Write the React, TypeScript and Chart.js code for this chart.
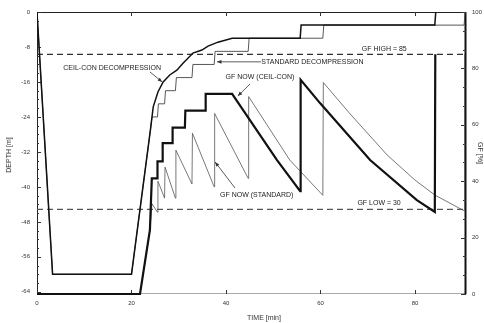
import React, { useEffect, useRef } from "react";
import { Chart, registerables } from "chart.js";

Chart.register(...registerables);

// ---- axes ----
const timeTicks = [0, 20, 40, 60, 80];
const depthTicks = [0, -8, -16, -24, -32, -40, -48, -56, -64];
const gfTicks = [0, 20, 40, 60, 80, 100];
const timeMax = 90.8;
const depthMin = -64.5;

// ---- depth profiles (time [min], depth [m]) ----
const ceilDepthTime = [0, 3.3, 20, 24.0, 24.6, 25.6, 26.7, 28.1, 29.6, 30.9, 32.0, 33.0, 34.9, 36.2, 38.3, 41.3, 55.7, 55.9, 84.2, 84.4];
const ceilDepth = [0, -60, -60, -27, -21.7, -18.3, -16, -14.4, -13.3, -11.7, -10.5, -9.4, -8.7, -7.8, -6.9, -6, -6, -3, -3, 0];

const stdDepthTime = [0, 3.3, 20, 24.0, 24.34, 25.5, 25.7, 27.0, 27.2, 29.3, 29.5, 32.8, 33.0, 37.5, 37.7, 44.7, 44.9, 60.5, 60.7, 90.4, 90.6];
const stdDepth = [0, -60, -60, -27, -24, -24, -21, -21, -18, -18, -15, -15, -12, -12, -9, -9, -6, -6, -3, -3, 0];

// ---- gradient factor now (time [min], GF [%]) ----
const ceilGfTime = [0, 21.8, 23.9, 24.3, 25.4, 25.5, 26.5, 26.6, 28.6, 28.7, 31.3, 31.4, 35.6, 35.7, 41.3, 50.8, 55.7, 55.8, 59.9, 70.5, 80.4, 84.2, 84.3];
const ceilGf = [0, 0, 22.7, 41, 41, 47, 47, 53.5, 53.5, 59, 59, 65, 65, 71, 71, 47.5, 36.5, 76, 67.7, 47.5, 33.3, 29.1, 85];

const stdGfTime = [0, 21.8, 23.9, 24.34, 25.5, 25.6, 27.0, 27.1, 29.3, 29.4, 32.8, 32.9, 37.5, 37.6, 44.7, 44.8, 53.5, 60.5, 60.6, 66.2, 74.1, 80.0, 84.2, 90.4, 90.5];
const stdGf = [0, 0, 22.7, 32, 29, 40, 34, 45, 34, 51, 39, 57, 38, 64, 41, 70, 47.5, 35, 75, 64, 49.3, 40.4, 35.1, 29.5, 85];

const gfHigh = 85;
const gfLow = 30;

// ---- annotations ----
const labelTexts = ["CEIL-CON DECOMPRESSION", "STANDARD DECOMPRESSION", "GF NOW (CEIL-CON)", "GF NOW (STANDARD)", "GF HIGH = 85", "GF LOW = 30"];
const labelAxes = ["y", "y", "y2", "y2", "y2", "y2"];
const labelX = [15.9, 58.3, 47.2, 46.5, 73.5, 72.4];
const labelY = [-12.8, -11.4, 77, 35.1, 86.9, 32.3];

const arrowAxes = ["y", "y", "y2", "y2"];
const arrowFromX = [23.9, 47.4, 45.1, 41.9];
const arrowFromY = [-13.7, -11.4, 74.5, 37.6];
const arrowToX = [26.5, 38.1, 42.5, 37.7];
const arrowToY = [-16.0, -11.4, 70.2, 46.8];

const FONT = "'Liberation Sans', Arial, sans-serif";

function pts(xs: number[], ys: number[]) {
  return xs.map((x, i) => ({ x, y: ys[i] }));
}

const decor = {
  id: "decor",
  beforeDatasetsDraw(chart: any) {
    const { ctx, chartArea: a, scales } = chart;
    ctx.save();
    ctx.lineWidth = 1;
    ctx.strokeStyle = "#222";
    ctx.beginPath();
    ctx.moveTo(a.left + 0.5, a.bottom);
    ctx.lineTo(a.left + 0.5, a.top + 0.5);
    ctx.lineTo(a.right, a.top + 0.5);
    ctx.stroke();
    ctx.strokeStyle = "#aaa";
    ctx.beginPath();
    ctx.moveTo(a.left, a.bottom - 0.5);
    ctx.lineTo(a.right, a.bottom - 0.5);
    ctx.stroke();
    ctx.strokeStyle = "#111";
    ctx.lineWidth = 2;
    ctx.beginPath();
    ctx.moveTo(a.right - 0.5, a.top);
    ctx.lineTo(a.right - 0.5, a.bottom);
    ctx.stroke();

    ctx.lineWidth = 1;
    ctx.strokeStyle = "#333";
    const x = scales.x, y = scales.y, y2 = scales.y2;
    ctx.beginPath();
    timeTicks.forEach((v) => {
      const px = Math.round(x.getPixelForValue(v)) + 0.5;
      ctx.moveTo(px, a.bottom);
      ctx.lineTo(px, a.bottom - 4);
      ctx.moveTo(px, a.top);
      ctx.lineTo(px, a.top + 4);
    });
    for (let i = 0; i < depthTicks.length; i++) {
      const v = depthTicks[i];
      const py = Math.round(y.getPixelForValue(v)) + 0.5;
      ctx.moveTo(a.left, py);
      ctx.lineTo(a.left + 4, py);
      if (i < depthTicks.length - 1) {
        const step = (depthTicks[i + 1] - v) / 4;
        for (let k = 1; k < 4; k++) {
          const pm = Math.round(y.getPixelForValue(v + k * step)) + 0.5;
          ctx.moveTo(a.left, pm);
          ctx.lineTo(a.left + 2, pm);
        }
      }
    }
    for (let i = 0; i < gfTicks.length; i++) {
      const v = gfTicks[i];
      const py = Math.round(y2.getPixelForValue(v)) + 0.5;
      ctx.moveTo(a.right, py);
      ctx.lineTo(a.right - 5, py);
      if (i < gfTicks.length - 1) {
        const step = (gfTicks[i + 1] - v) / 3;
        for (let k = 1; k < 3; k++) {
          const pm = Math.round(y2.getPixelForValue(v + k * step)) + 0.5;
          ctx.moveTo(a.right, pm);
          ctx.lineTo(a.right - 3, pm);
        }
      }
    }
    ctx.stroke();
    ctx.restore();
  },
  afterDatasetsDraw(chart: any) {
    const { ctx, scales, chartArea: a } = chart;
    ctx.save();
    ctx.fillStyle = "#222";
    ctx.font = `7px ${FONT}`;
    ctx.textAlign = "center";
    ctx.textBaseline = "middle";
    labelTexts.forEach((t, i) => {
      const px = scales.x.getPixelForValue(labelX[i]);
      const py = scales[labelAxes[i]].getPixelForValue(labelY[i]);
      ctx.fillText(t, px, py);
    });
    ctx.strokeStyle = "#333";
    ctx.lineWidth = 0.8;
    arrowAxes.forEach((ax, i) => {
      const x1 = scales.x.getPixelForValue(arrowFromX[i]);
      const y1 = scales[ax].getPixelForValue(arrowFromY[i]);
      const x2 = scales.x.getPixelForValue(arrowToX[i]);
      const y2 = scales[ax].getPixelForValue(arrowToY[i]);
      ctx.beginPath();
      ctx.moveTo(x1, y1);
      ctx.lineTo(x2, y2);
      ctx.stroke();
      const ang = Math.atan2(y2 - y1, x2 - x1);
      const L = 4.5, W = 1.8;
      ctx.beginPath();
      ctx.moveTo(x2, y2);
      ctx.lineTo(x2 - L * Math.cos(ang) + W * Math.sin(ang), y2 - L * Math.sin(ang) - W * Math.cos(ang));
      ctx.lineTo(x2 - L * Math.cos(ang) - W * Math.sin(ang), y2 - L * Math.sin(ang) + W * Math.cos(ang));
      ctx.closePath();
      ctx.fillStyle = "#333";
      ctx.fill();
    });

    ctx.fillStyle = "#333";
    ctx.font = `7px ${FONT}`;
    ctx.fillText("TIME [min]", 264, 318);
    ctx.save();
    ctx.translate(9, (a.top + a.bottom) / 2 + 2);
    ctx.rotate(-Math.PI / 2);
    ctx.fillText("DEPTH [m]", 0, 0);
    ctx.restore();
    ctx.save();
    ctx.translate(480, (a.top + a.bottom) / 2);
    ctx.rotate(Math.PI / 2);
    ctx.fillText("GF [%]", 0, 0);
    ctx.restore();
    ctx.restore();
  },
};

export default function App() {
  const ref = useRef<HTMLCanvasElement>(null);
  useEffect(() => {
    document.body.style.margin = "0";
    document.body.style.overflow = "hidden";
    Chart.defaults.font.family = FONT;
    const tickFont = { size: 6, family: FONT };
    const chart = new Chart(ref.current as HTMLCanvasElement, {
      type: "line",
      data: {
        datasets: [
          { label: "GF now (ceil-con)", data: pts(ceilGfTime, ceilGf), yAxisID: "y2", borderColor: "#111", borderWidth: 2.2, clip: 3 },
          { label: "Ceil-con decompression", data: pts(ceilDepthTime, ceilDepth), yAxisID: "y", borderColor: "#111", borderWidth: 1.5 },
          { label: "Standard decompression", data: pts(stdDepthTime, stdDepth), yAxisID: "y", borderColor: "#444", borderWidth: 0.9 },
          { label: "GF now (standard)", data: pts(stdGfTime, stdGf), yAxisID: "y2", borderColor: "#555", borderWidth: 0.8 },
          { label: "GF high", data: pts([0, timeMax], [gfHigh, gfHigh]), yAxisID: "y2", borderColor: "#333", borderWidth: 1.3, borderDash: [6, 4] },
          { label: "GF low", data: pts([0, timeMax], [gfLow, gfLow]), yAxisID: "y2", borderColor: "#555", borderWidth: 1.3, borderDash: [6, 4] },
        ].map((d) => ({ ...d, pointRadius: 0, fill: false, tension: 0 })),
      },
      options: {
        animation: false,
        responsive: false,
        devicePixelRatio: 1,
        layout: { padding: { top: 12, left: 0, right: 0, bottom: 0 } },
        plugins: { legend: { display: false }, tooltip: { enabled: false } },
        scales: {
          x: {
            type: "linear",
            min: 0,
            max: timeMax,
            afterBuildTicks: (s: any) => { s.ticks = timeTicks.map((v) => ({ value: v })); },
            afterFit: (s: any) => { s.height = 29; },
            ticks: { font: tickFont, color: "#333", padding: 6, autoSkip: false, maxRotation: 0 },
            grid: { display: false, drawTicks: false },
            border: { display: false },
          },
          y: {
            type: "linear",
            position: "left",
            min: depthMin,
            max: 0,
            afterBuildTicks: (s: any) => { s.ticks = depthTicks.map((v) => ({ value: v })); },
            afterFit: (s: any) => { s.width = 37; },
            ticks: { font: tickFont, color: "#333", padding: 7, autoSkip: false },
            grid: { display: false, drawTicks: false },
            border: { display: false },
          },
          y2: {
            type: "linear",
            position: "right",
            min: 0,
            max: 100,
            afterBuildTicks: (s: any) => { s.ticks = gfTicks.map((v) => ({ value: v })); },
            afterFit: (s: any) => { s.width = 18; },
            ticks: { font: tickFont, color: "#333", padding: 6, autoSkip: false },
            grid: { display: false, drawTicks: false },
            border: { display: false },
          },
        },
      },
      plugins: [decor],
    } as any);
    return () => chart.destroy();
  }, []);
  return (
    <div style={{ position: "fixed", left: 0, top: 0, width: 484, height: 323, overflow: "hidden", background: "#fff" }}>
      <canvas ref={ref} width={484} height={323} style={{ width: 484, height: 323, display: "block" }} />
    </div>
  );
}
